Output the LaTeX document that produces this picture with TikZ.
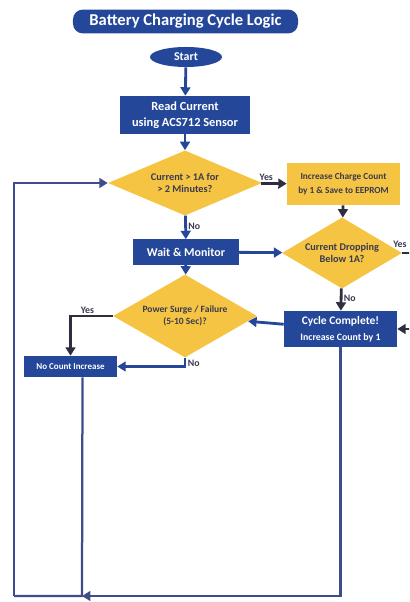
\documentclass[tikz,border=0pt]{standalone}
\usepackage{fontspec}
\setmainfont{Carlito}
\usepackage{tikz}
\usetikzlibrary{arrows.meta, positioning, shapes.geometric}
\definecolor{flowblue}{HTML}{24479A}
\definecolor{flowyellow}{HTML}{F5C443}
\definecolor{flowtext}{HTML}{3A3A50}
\definecolor{loopblue}{HTML}{3E4C8C}
\tikzset{font=\bfseries}
\tikzset{titlebox/.style={rectangle, rounded corners=7pt, fill=flowblue, text=white,
  minimum width=5.625cm, minimum height=0.575cm, font=\bfseries\fontsize{11.8}{13}\selectfont}}
\tikzset{startnode/.style={ellipse, fill=flowblue, text=white, inner sep=0pt,
  minimum width=1.8cm, minimum height=0.5cm, font=\bfseries\fontsize{8.5}{9}\selectfont}}
\tikzset{process/.style={rectangle, fill=flowblue, text=white, align=center, inner sep=1pt}}
\tikzset{action/.style={rectangle, fill=flowyellow, text=flowtext, align=center, inner sep=1pt}}
\tikzset{decision/.style={diamond, fill=flowyellow, text=flowtext, align=center,
  inner xsep=-8pt, inner ysep=0pt, font=\bfseries\fontsize{7.3}{8.8}\selectfont}}
\tikzset{flow/.style={-{Triangle[length=6pt,width=7pt]}, line width=2pt, draw=flowblue}}
\tikzset{dark/.style={draw=flowtext!80!black}}
\tikzset{answer/.style={text=flowtext, font=\bfseries\fontsize{7}{8}\selectfont, inner sep=1pt}}

\begin{document}
\begin{tikzpicture}[x=0.025cm, y=-0.025cm]
  \useasboundingbox (0,0) rectangle (409,602);
  \clip (0,0) rectangle (409,602);
  %Nodes
  \node[titlebox] (title) at (185.5,21.5) {Battery Charging Cycle Logic};
  \node[startnode] (start) at (186,57) {Start};
  \node[process, minimum width=3.25cm, minimum height=0.95cm,
    font=\bfseries\fontsize{8.8}{11.5}\selectfont] (read) at (185,115)
    {Read Current\\using ACS712 Sensor};
  \node[decision, minimum width=3.85cm, minimum height=1.425cm] (long) at (185,183)
    {Current > 1A for\\> 2 Minutes?};
  \node[action, minimum width=2.825cm, minimum height=1.05cm,
    font=\bfseries\fontsize{6.6}{10}\selectfont] (save) at (343.5,184)
    {Increase Charge Count\\by 1 \& Save to EEPROM};
  \node[process, minimum width=2.625cm, minimum height=0.625cm,
    font=\bfseries\fontsize{8.5}{10}\selectfont] (wait) at (186,252) {Wait \& Monitor};
  \node[decision, minimum width=3cm, minimum height=1.425cm] (drop) at (342,253)
    {Current Dropping\\Below 1A?};
  \node[decision, minimum width=3.6cm, minimum height=1.45cm,
    font=\bfseries\fontsize{6.8}{8.8}\selectfont] (surge) at (185,316)
    {Power Surge / Failure\\(5-10 Sec)?};
  \node[process, minimum width=2.825cm, minimum height=0.9cm,
    font=\bfseries\fontsize{8.2}{11}\selectfont] (done) at (340.5,329)
    {Cycle Complete!\\{\fontsize{7}{9}\selectfont Increase Count by 1}};
  \node[process, minimum width=2.325cm, minimum height=0.525cm,
    font=\bfseries\fontsize{6.4}{8}\selectfont] (nocount) at (70.5,366.5) {No Count Increase};
  \coordinate (loopleft) at (14,596);
  \coordinate (loopmid) at (82,596);
  \coordinate (dropout) at (415,253);
  \coordinate (donein) at (415,329);
  % Edges
  \draw[flow] (start) -- (read);
  \draw[flow] (read) -- (long);
  \draw[flow, dark] (long) -- node[answer, above, pos=0.2]{Yes} (save);
  \draw[flow, dark] (save) -- (drop);
  \draw[flow] (long) -- node[answer, right, pos=0.45]{No} (wait);
  \draw[flow] (wait) -- (drop);
  \draw[flow] (wait) -- (surge);
  \draw[flow, dark] (drop) -- node[answer, right, pos=0.45]{No} (done);
  \draw[line width=2pt, dark] (drop.east) -- (dropout);
  \node[answer] (dropyes) at (400,244) {Yes};
  \draw[flow, dark] (donein) -- (done.east);
  \draw[flow] (done) -- (surge);
  \draw[flow, dark] (surge.west) -| node[answer, above, pos=0.3]{Yes} (nocount.north);
  \draw[flow] (surge.south) |- node[answer, right, pos=0.3]{No} (nocount.east);
  \begin{scope}[every path/.style={draw=loopblue, line width=1.6pt}]
    \draw ([xshift=0.3cm]nocount.south) -- (loopmid) -- (loopleft);
    \draw[-{Triangle[length=6pt,width=7pt]}] (loopleft) |- (long.west);
    \draw[-{Triangle[length=6pt,width=7pt]}] (done.south) |- (loopmid);
  \end{scope}
\end{tikzpicture}
\end{document}
